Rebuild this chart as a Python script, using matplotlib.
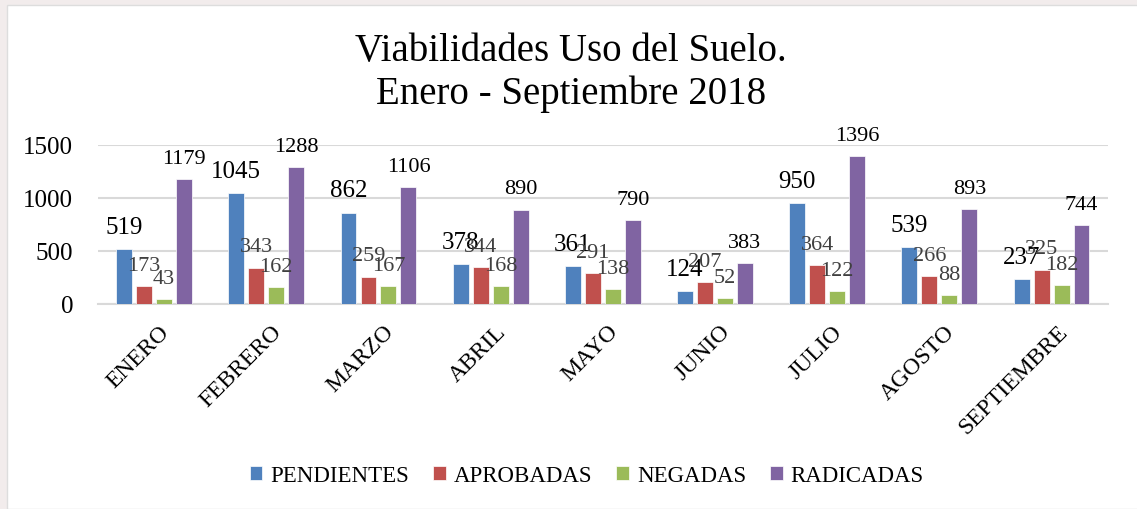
import matplotlib.pyplot as plt
import matplotlib.transforms as mtransforms
import numpy as np

plt.rcParams['font.family'] = ['Liberation Serif', 'DejaVu Serif']

meses = ['ENERO', 'FEBRERO', 'MARZO', 'ABRIL', 'MAYO', 'JUNIO', 'JULIO', 'AGOSTO', 'SEPTIEMBRE']
pendientes = [519, 1045, 862, 378, 361, 124, 950, 539, 237]
aprobadas = [173, 343, 259, 344, 291, 207, 364, 266, 325]
negadas = [43, 162, 167, 168, 138, 52, 122, 88, 182]
radicadas = [1179, 1288, 1106, 890, 790, 383, 1396, 893, 744]

series = [('PENDIENTES', pendientes, '#4F81BD', 'black', 18),
          ('APROBADAS', aprobadas, '#C0504D', '#404040', 16),
          ('NEGADAS', negadas, '#9BBB59', '#404040', 16),
          ('RADICADAS', radicadas, '#8064A2', 'black', 16)]

fig = plt.figure(figsize=(11.37, 5.10), dpi=100)
fig.patch.set_facecolor('#f2ecec')
bg = plt.Rectangle((7 / 1137, 0), 1, 1 - 6 / 510, transform=fig.transFigure,
                   facecolor='white', edgecolor='#dddddd', zorder=-10)
fig.patches.append(bg)

ax = fig.add_axes([0.0862, 0.402, 0.888, 0.312])
ax.set_zorder(1)
ax.patch.set_alpha(0)
x = np.arange(len(meses))
w = 0.142
step = 0.178
for i, (name, vals, col, lcol, fs) in enumerate(series):
    pos = x + (i - 1.5) * step
    ax.bar(pos, vals, width=w, color=col, label=name, zorder=3,
           edgecolor='white', linewidth=0.5)
    for p, v in zip(pos, vals):
        ax.annotate(str(v), (p, v), xytext=(0, 8), textcoords='offset points',
                    ha='center', va='bottom', color=lcol, fontsize=fs,
                    zorder=5, annotation_clip=False)

ax.set_xlim(-0.5, len(meses) - 0.5)
ax.set_ylim(0, 1500)
ax.set_yticks([0, 500, 1000, 1500])
ax.tick_params(axis='y', labelsize=18, length=0, pad=18)
ax.set_xticks(x)
ax.set_xticklabels(meses, rotation=45, ha='right', rotation_mode='anchor', fontsize=17)
ax.tick_params(axis='x', length=0, pad=12)
shift = mtransforms.ScaledTranslation(5 / 100, 0, fig.dpi_scale_trans)
for lab in ax.get_xticklabels():
    lab.set_transform(lab.get_transform() + shift)
ax.grid(axis='y', color='#d9d9d9', linewidth=1.5, zorder=0)
for s in ['top', 'right', 'left']:
    ax.spines[s].set_visible(False)
ax.spines['bottom'].set_color('#d9d9d9')
ax.spines['bottom'].set_linewidth(1.5)

fig.text(0.502, 0.857, 'Viabilidades Uso del Suelo.\nEnero - Septiembre 2018',
         ha='center', va='center', fontsize=28, linespacing=1.2)

fig.legend(loc='center', bbox_to_anchor=(0.516, 0.065), ncol=4, frameon=False,
           fontsize=16.5, handlelength=0.55, handleheight=0.55, columnspacing=1.05,
           handletextpad=0.35)

plt.savefig('out.png', dpi=100, facecolor=fig.get_facecolor())
